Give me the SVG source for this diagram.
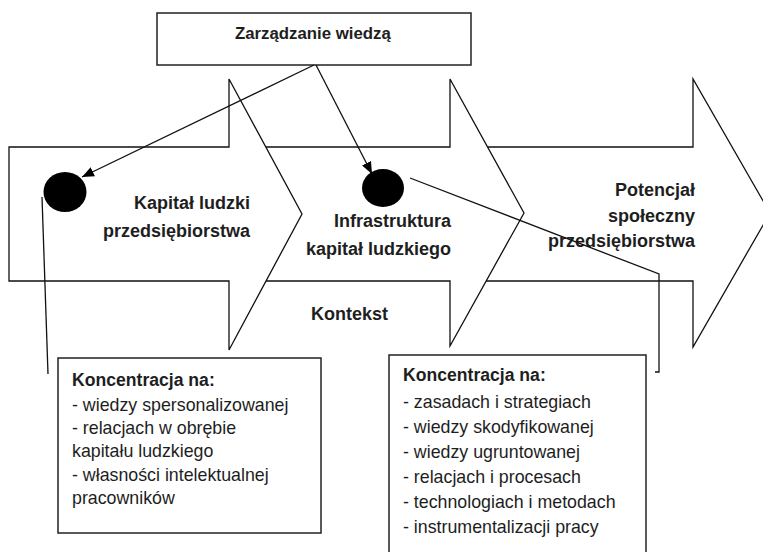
<svg xmlns="http://www.w3.org/2000/svg" width="763" height="552" viewBox="0 0 763 552">
  <style>
    .arrow { fill: #ffffff; stroke: #111111; stroke-width: 1.3; stroke-linejoin: miter; }
    .box { fill: #ffffff; stroke: #222222; stroke-width: 1.5; }
    .dot { fill: #000000; }
    .title { font-family: "Liberation Sans", Arial, sans-serif; font-weight: bold; font-size: 18px; fill: #1e1e1e; }
    .title.small { font-size: 16.8px; }
    .head { font-family: "Liberation Sans", Arial, sans-serif; font-weight: bold; font-size: 17.6px; fill: #1e1e1e; }
    .item { font-family: "Liberation Sans", Arial, sans-serif; font-size: 17.8px; fill: #1e1e1e; }
    .end { text-anchor: end; }
    .link { fill: none; stroke: #111111; stroke-width: 1.3; }
  </style>
  <defs>
    <marker id="tip" viewBox="0 0 12 10" refX="12" refY="5" markerWidth="12" markerHeight="10" markerUnits="userSpaceOnUse" orient="auto">
      <path d="M0,0 L12,5 L0,10 z" fill="#000000"/>
    </marker>
  </defs>

  <rect width="763" height="552" fill="#ffffff"/>

  <!-- process arrows, back to front -->
  <g id="potencjal">
    <polygon class="arrow" points="480,147 693,147 693,79 770,213 693,347 693,281 480,281"/>
    <text class="title end" x="695" y="196">Potencjał</text>
    <text class="title end" x="695" y="222">społeczny</text>
    <text class="title end" x="695" y="247">przedsiębiorstwa</text>
  </g>
  <g id="infrastruktura">
    <polygon class="arrow" points="260,147 450,147 450,79 524,213 450,346 450,281 260,281"/>
    <text class="title end" x="451" y="227">Infrastruktura</text>
    <text class="title end" x="451" y="255">kapitał ludzkiego</text>
  </g>
  <g id="kapital">
    <polygon class="arrow" points="9,147 229,147 229,79 302,214 229,350 229,281 9,281"/>
    <text class="title end" x="250" y="209">Kapitał ludzki</text>
    <text class="title end" x="250" y="237">przedsiębiorstwa</text>
  </g>

  <g id="kontekst">
    <text class="title" x="311" y="320">Kontekst</text>
  </g>

  <g id="zarzadzanie">
    <rect class="box" x="157" y="13" width="314" height="52"/>
    <text class="title small" x="235" y="39">Zarządzanie wiedzą</text>
  </g>

  <g id="dot-kapital">
    <ellipse class="dot" cx="65" cy="192" rx="21.5" ry="20"/>
  </g>
  <g id="dot-infrastruktura">
    <ellipse class="dot" cx="383" cy="188" rx="21" ry="19"/>
  </g>

  <g id="koncentracja-kapital">
    <rect class="box" x="58" y="358" width="263" height="175"/>
    <text class="head" x="72" y="386">Koncentracja na:</text>
    <text class="item" x="72" y="410.5">- wiedzy spersonalizowanej</text>
    <text class="item" x="72" y="434">- relacjach w obrębie</text>
    <text class="item" x="72" y="457">kapitału ludzkiego</text>
    <text class="item" x="72" y="480.5">- własności intelektualnej</text>
    <text class="item" x="72" y="504">pracowników</text>
  </g>

  <g id="koncentracja-infrastruktura">
    <rect class="box" x="389" y="355" width="257" height="210"/>
    <text class="head" x="403" y="381">Koncentracja na:</text>
    <text class="item" x="403" y="407.5">- zasadach i strategiach</text>
    <text class="item" x="403" y="432.5">- wiedzy skodyfikowanej</text>
    <text class="item" x="403" y="457.5">- wiedzy ugruntowanej</text>
    <text class="item" x="403" y="482.5">- relacjach i procesach</text>
    <text class="item" x="403" y="508">- technologiach i metodach</text>
    <text class="item" x="403" y="533">- instrumentalizacji pracy</text>
  </g>

  <!-- connectors -->
  <g id="connectors">
    <line class="link" x1="314" y1="65" x2="82" y2="177" marker-end="url(#tip)"/>
    <line class="link" x1="316" y1="65" x2="372" y2="174" marker-end="url(#tip)"/>
    <line class="link" x1="42" y1="197" x2="48" y2="374"/>
    <polyline class="link" points="410,178 659,274 659,372 655,372"/>
  </g>
</svg>
